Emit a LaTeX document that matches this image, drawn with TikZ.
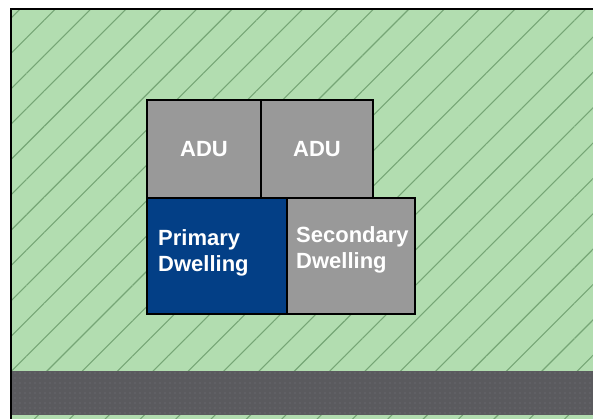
\documentclass[tikz,border=0pt]{standalone}
\usepackage{fontspec}
\setmainfont{Liberation Sans}
\usetikzlibrary{patterns.meta}
\definecolor{lawn}{HTML}{B2DDB0}
\definecolor{hatch}{HTML}{76A676}
\definecolor{road}{HTML}{5A5A5E}
\definecolor{roaddot}{HTML}{76767E}
\definecolor{bldg}{HTML}{999999}
\definecolor{primary}{HTML}{033F86}
\tikzset{
  lot/.style={fill=lawn},
  lothatch/.style={pattern={Lines[angle=45,distance=25pt,line width=1.1pt]},pattern color=hatch},
  roadband/.style={fill=road},
  roaddots/.style={pattern={Dots[distance=5pt,radius=0.7pt]},pattern color=roaddot},
  unit/.style={draw=black,line width=1.4pt,inner sep=0pt,outer sep=0pt,anchor=north west,
    text=white,font=\fontsize{22}{26}\selectfont\bfseries},
  adu/.style={unit,fill=bldg,align=center},
  label/.style={text=white,font=\fontsize{22}{26}\selectfont\bfseries,align=left,
    anchor=north west,inner sep=0pt},
}
\begin{document}
\begin{tikzpicture}[x=1pt,y=-1pt]
\useasboundingbox (0,0) rectangle (593,418);
\fill[white] (0,0) rectangle (593,418);
% lot with diagonal hatching
\fill[lot] (11,9) rectangle (600,425);
\fill[lothatch] (11,9) rectangle (600,425);
% street band with dotted texture
\fill[roadband] (11,371) rectangle (600,415);
\fill[roaddots] (11,371) rectangle (600,415);
% lot boundary
\draw[line width=2pt] (11,425) -- (11,9) -- (600,9);
% building footprints
\node[adu,minimum width=114pt,minimum height=98pt] (adu1) at (147,100) {ADU};
\node[adu,minimum width=112pt,minimum height=98pt] (adu2) at (261,100) {ADU};
\node[unit,fill=primary,minimum width=140pt,minimum height=116pt] (prim) at (147,198) {};
\node[unit,fill=bldg,minimum width=128pt,minimum height=116pt] (sec) at (287,198) {};
\node[label] (primlbl) at (158,229) {Primary\\Dwelling};
\node[label] (seclbl) at (296,226) {Secondary\\Dwelling};
\end{tikzpicture}
\end{document}
